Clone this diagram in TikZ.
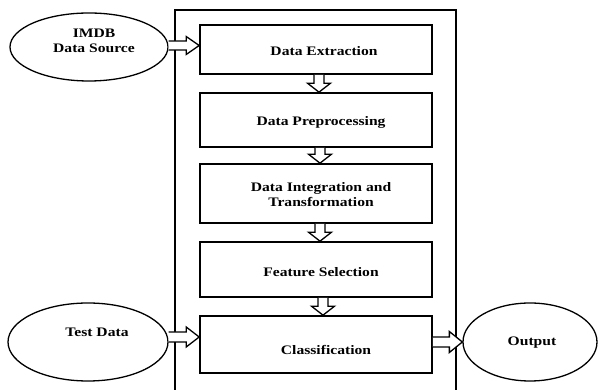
\documentclass[tikz,border=0pt]{standalone}
\usepackage{fontspec}
\setmainfont{Liberation Serif}[FakeStretch=1.2]
\usetikzlibrary{shapes.geometric,calc}
\tikzset{
  stepbox/.style={draw, line width=1.6pt, minimum width=232pt, inner sep=0pt},
  oval/.style={draw, ellipse, line width=1.3pt, inner sep=0pt},
  txt/.style={font=\fontsize{13}{15}\selectfont\bfseries, align=center, inner sep=0pt},
  blk/.style={draw, fill=white, line width=1.3pt, line join=miter},
  frame/.style={line width=1.6pt}
}
\newcommand\rarr[5]{%
  \draw[blk] let \p1=(#1), \p2=(#2) in
    (\x1,#3+#4) -- (\x2-13,#3+#4) -- (\x2-13,#3+#5) -- (\x2,#3)
    -- (\x2-13,#3-#5) -- (\x2-13,#3-#4) -- (\x1,#3-#4);}
\newcommand\darr[3]{%
  \draw[blk] let \p1=(#1.south), \p2=(#2.north) in
    (#3-5,\y1) -- (#3-5,\y2+9) -- (#3-11.5,\y2+9) -- (#3,\y2)
    -- (#3+11.5,\y2+9) -- (#3+5,\y2+9) -- (#3+5,\y1);}
\begin{document}
\begin{tikzpicture}[x=1pt,y=1pt]
\useasboundingbox (0,0) rectangle (600,390);
% outer frame
\coordinate (fl) at (175,0);
\coordinate (fr) at (456,0);
\draw[frame] (fl) -- (175,380) -- (456,380) -- (fr);
% boxes
\node[stepbox, minimum height=49pt] (b1) at (316,340.5) {};
\node[stepbox, minimum height=54pt] (b2) at (316,270) {};
\node[stepbox, minimum height=59pt] (b3) at (316,196.5) {};
\node[stepbox, minimum height=55pt] (b4) at (316,120.5) {};
\node[stepbox, minimum height=57pt] (b5) at (316,45.5) {};
\node[txt] (t1) at (324,339) {Data Extraction};
\node[txt] (t2) at (321,268) {Data Preprocessing};
\node[txt] (t3) at (321,195) {Data Integration and\\ Transformation};
\node[txt] (t4) at (321,118) {Feature Selection};
\node[txt] (t5) at (326,40) {Classification};
% ellipses
\node[oval, minimum width=158pt, minimum height=68pt] (imdb) at (89,343) {};
\node[txt] (imdbt) at (94,349) {IMDB\\Data Source};
\node[oval, minimum width=160pt, minimum height=78pt] (test) at (88,48) {};
\node[txt] (testt) at (97,58) {Test Data};
\node[oval, minimum width=134pt, minimum height=78pt] (out) at (530,48) {};
\node[txt] (outt) at (532,47) {Output};
% arrows
\rarr{imdb.east}{b1.west}{344.5}{4.5}{9}
\rarr{test.east}{b5.west}{53}{5}{10}
\rarr{b5.east}{out.west}{48}{5}{10.5}
\darr{b1}{b2}{319}
\darr{b2}{b3}{320}
\darr{b3}{b4}{320}
\darr{b4}{b5}{323}
\end{tikzpicture}
\end{document}
